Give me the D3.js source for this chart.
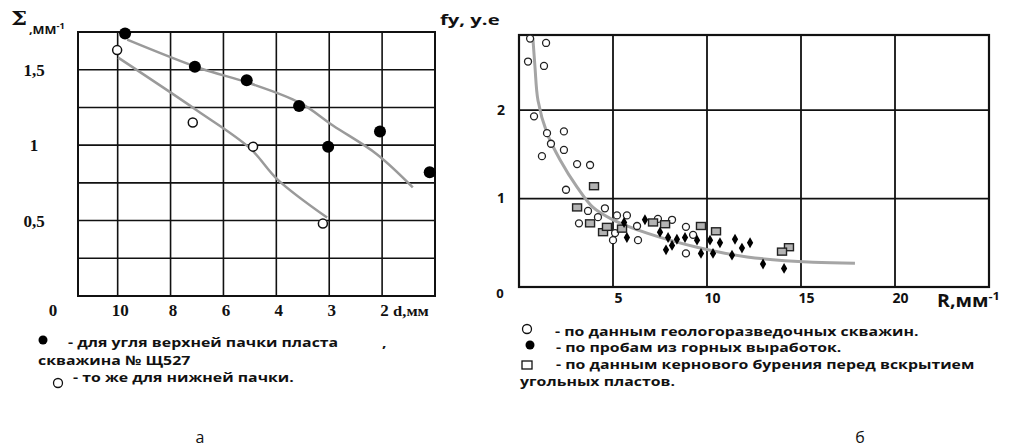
<!DOCTYPE html>
<html>
<head>
<meta charset="utf-8">
<script src="https://cdn.jsdelivr.net/npm/d3@7"></script>
<style>
  body { margin: 0; background: #fff; }
  svg text { font-family: "Open Sans", sans-serif; font-weight: bold; fill: #111; }
</style>
</head>
<body>
<div id="chart"></div>
<script>
// ---- data: left chart (a) ----
// x is the grid column of the d-scale (10, 8, 6, 4, 3, 2 mm at columns 1..6)
const leftXLabels = ["10", "8", "6", "4", "3", "2"];
const leftYTicks = [0.5, 1, 1.5];
const upperPoints = [[1.14, 1.74], [2.46, 1.52], [3.44, 1.43], [4.43, 1.26], [4.98, 0.99], [5.96, 1.09], [6.9, 0.82]];
const lowerPoints = [[0.99, 1.63], [2.42, 1.15], [3.56, 0.99], [4.88, 0.48]];
const upperCurve = [[1.18, 1.70], [2.56, 1.51], [3.5, 1.41], [4.45, 1.28], [5.07, 1.13], [5.9, 0.94], [6.58, 0.72]];
const lowerCurve = [[1.01, 1.58], [2.5, 1.23], [3.5, 0.98], [4.03, 0.77], [4.96, 0.52]];

// ---- data: right chart (б) ----
const rightXTicks = [5, 10, 15, 20];
const rightYTicks = [1, 2];
const wellPoints = [[0.59, 2.81], [1.44, 2.76], [0.48, 2.55], [1.33, 2.5], [0.8, 1.93], [1.49, 1.74], [2.39, 1.76],
  [1.7, 1.62], [2.39, 1.55], [1.22, 1.48], [3.09, 1.39], [3.78, 1.38], [2.5, 1.1], [3.67, 0.86], [4.57, 0.89],
  [4.2, 0.79], [3.19, 0.72], [5.21, 0.81], [5.74, 0.81], [5.11, 0.61], [5.0, 0.53], [6.28, 0.69], [6.33, 0.53],
  [7.39, 0.77], [8.14, 0.76], [8.88, 0.68], [9.26, 0.59], [8.88, 0.38]];
const minePoints = [[5.59, 0.73], [6.7, 0.76], [7.5, 0.62], [7.93, 0.56], [8.4, 0.54], [8.83, 0.56], [9.47, 0.53],
  [10.16, 0.53], [10.69, 0.5], [11.49, 0.54], [12.29, 0.5], [8.14, 0.47], [7.82, 0.42], [11.86, 0.44],
  [9.68, 0.38], [10.32, 0.38], [11.33, 0.36], [12.98, 0.26], [14.1, 0.21], [5.74, 0.56]];
const corePoints = [[3.99, 1.14], [3.09, 0.9], [3.78, 0.72], [4.47, 0.62], [4.68, 0.68], [5.48, 0.66], [7.13, 0.73],
  [7.77, 0.71], [9.68, 0.69], [10.48, 0.63], [14.36, 0.45], [13.99, 0.4]];
const fitCurve = [[0.74, 2.81], [0.85, 2.49], [1.01, 2.11], [1.49, 1.74], [2.18, 1.44], [3.09, 1.13], [3.94, 0.9],
  [5.0, 0.76], [6.81, 0.61], [9.47, 0.45], [12.13, 0.34], [15.64, 0.28], [17.87, 0.27]];

const width = 1034, height = 448;
const svg = d3.select('#chart').append('svg')
  .attr('width', width).attr('height', height);

// the scanned figure is stretched sideways, so text is widened a bit
function wideText(g, x, y, str, size, sx) {
  return g.append('text')
    .attr('transform', `translate(${x},${y}) scale(${sx},1)`)
    .style('font-size', size + 'px')
    .text(str);
}

// ================= left chart =================
const xL = d3.scaleLinear().domain([0.25, 7]).range([78, 435]);
const yL = d3.scaleLinear().domain([0, 1.75]).range([296, 32]);
const gL = svg.append('g');

// grid
gL.selectAll('.vl').data(d3.range(1, 7)).enter().append('line')
  .attr('x1', d => xL(d)).attr('x2', d => xL(d))
  .attr('y1', yL(0)).attr('y2', yL(1.75))
  .attr('stroke', '#111').attr('stroke-width', 1.6);
gL.selectAll('.hl').data(d3.range(0.25, 1.75, 0.25)).enter().append('line')
  .attr('x1', xL(0.25)).attr('x2', xL(7))
  .attr('y1', d => yL(d)).attr('y2', d => yL(d))
  .attr('stroke', '#111').attr('stroke-width', 1.6);
gL.append('rect')
  .attr('x', xL(0.25)).attr('y', yL(1.75))
  .attr('width', xL(7) - xL(0.25)).attr('height', yL(0) - yL(1.75))
  .attr('fill', 'none').attr('stroke', '#111').attr('stroke-width', 2);

// axes labels
const xAxisL = d3.axisBottom(xL).tickValues(d3.range(1, 7))
  .tickFormat((d, i) => leftXLabels[i]).tickSize(0).tickPadding(8);
gL.append('g').attr('transform', `translate(2,${yL(0)})`).call(xAxisL)
  .call(g => g.select('.domain').remove())
  .selectAll('text').style('font-family', '"Liberation Serif", serif').style('font-size', '17px')
  .style('font-weight', 'bold').attr('fill', '#111');
wideText(gL, xL(6) + 11, yL(0) + 20, 'd,мм', 15, 1.1).style('font-family', '"Liberation Serif", serif');
gL.append('text').attr('x', xL(0.25) - 25).attr('y', yL(0) + 20).attr('text-anchor', 'middle')
  .style('font-family', '"Liberation Serif", serif').style('font-size', '17px').text('0');

gL.selectAll('.yt').data(leftYTicks).enter().append('text')
  .attr('x', 34).attr('y', d => yL(d)).attr('dy', '0.35em').attr('text-anchor', 'middle')
  .style('font-family', '"Liberation Serif", serif').style('font-size', '17px')
  .text(d => String(d).replace('.', ','));

wideText(gL, 11, 25, 'Σ', 19, 1.2).style('font-family', '"DejaVu Serif", serif');
wideText(gL, 29, 34, ',ММ', 11, 1.15).attr('fill', '#1b2a55')
  .append('tspan').attr('dy', -5).style('font-size', '8px').text('-1');

// curves
const lineL = d3.line().x(d => xL(d[0])).y(d => yL(d[1])).curve(d3.curveCatmullRom);
[upperCurve, lowerCurve].forEach(c => {
  gL.append('path').attr('d', lineL(c))
    .attr('fill', 'none').attr('stroke', '#9a9a9a').attr('stroke-width', 2.5);
});

// points
gL.selectAll('.up').data(upperPoints).enter().append('circle')
  .attr('cx', d => xL(d[0])).attr('cy', d => yL(d[1])).attr('r', 6)
  .attr('fill', '#000');
gL.selectAll('.lp').data(lowerPoints).enter().append('circle')
  .attr('cx', d => xL(d[0])).attr('cy', d => yL(d[1])).attr('r', 4.5)
  .attr('fill', '#fff').attr('stroke', '#111').attr('stroke-width', 1.5);

// legend (a)
const legL = svg.append('g');
legL.append('circle').attr('cx', 43).attr('cy', 340).attr('r', 4.5).attr('fill', '#000');
wideText(legL, 68, 347, '- для угля верхней пачки пласта', 13, 1.22);
wideText(legL, 382, 347, ',', 13, 1.22);
wideText(legL, 38, 365, 'скважина № Щ527', 13, 1.22);
legL.append('circle').attr('cx', 58).attr('cy', 383).attr('r', 4.5)
  .attr('fill', '#fff').attr('stroke', '#111').attr('stroke-width', 1.3);
wideText(legL, 73, 382, '- то же для нижней пачки.', 13, 1.22);
svg.append('text').attr('x', 200).attr('y', 443).attr('text-anchor', 'middle')
  .style('font-weight', 'normal').style('font-size', '16px').text('а');

// ================= right chart =================
const xR = d3.scaleLinear().domain([0, 25]).range([519, 989]);
const yR = d3.scaleLinear().domain([0, 2.85]).range([287, 35]);
const gR = svg.append('g');

gR.selectAll('.vl').data(rightXTicks).enter().append('line')
  .attr('x1', d => xR(d)).attr('x2', d => xR(d))
  .attr('y1', yR(0)).attr('y2', yR(2.85))
  .attr('stroke', '#111').attr('stroke-width', 1.8);
gR.selectAll('.hl').data(rightYTicks).enter().append('line')
  .attr('x1', xR(0)).attr('x2', xR(25))
  .attr('y1', d => yR(d)).attr('y2', d => yR(d))
  .attr('stroke', '#111').attr('stroke-width', 1.8);
gR.append('rect')
  .attr('x', xR(0)).attr('y', yR(2.85))
  .attr('width', xR(25) - xR(0)).attr('height', yR(0) - yR(2.85))
  .attr('fill', 'none').attr('stroke', '#111').attr('stroke-width', 2.2);

const xAxisR = d3.axisBottom(xR).tickValues(rightXTicks).tickSize(0).tickPadding(6);
gR.append('g').attr('transform', `translate(5,${yR(0)})`).call(xAxisR)
  .call(g => g.select('.domain').remove())
  .selectAll('text').style('font-size', '14px').style('font-weight', 'bold')
  .style('font-family', '"Open Sans", sans-serif').attr('fill', '#111');
wideText(gR, 937, 307, 'R,мм', 17, 1.15)
  .append('tspan').attr('dy', -7).style('font-size', '11px').text('-1');
gR.append('text').attr('x', 500).attr('y', yR(0) + 6).attr('dy', '0.35em').attr('text-anchor', 'middle')
  .style('font-size', '13px').text('0');
gR.selectAll('.yt').data(rightYTicks).enter().append('text')
  .attr('x', 501).attr('y', d => yR(d)).attr('dy', '0.35em').attr('text-anchor', 'middle')
  .style('font-size', '14px').text(d => d);
wideText(svg, 440, 25, 'fу, у.е', 15, 1.35);

// fitted curve
const lineR = d3.line().x(d => xR(d[0])).y(d => yR(d[1])).curve(d3.curveCatmullRom);
gR.append('path').attr('d', lineR(fitCurve))
  .attr('fill', 'none').attr('stroke', '#a5a5a5').attr('stroke-width', 3);

// points
gR.selectAll('.wp').data(wellPoints).enter().append('circle')
  .attr('cx', d => xR(d[0])).attr('cy', d => yR(d[1])).attr('r', 3.5)
  .attr('fill', '#fff').attr('stroke', '#222').attr('stroke-width', 1.3);
gR.selectAll('.cp').data(corePoints).enter().append('rect')
  .attr('x', d => xR(d[0]) - 4.5).attr('y', d => yR(d[1]) - 3.5)
  .attr('width', 9).attr('height', 7)
  .attr('fill', '#b3b3b3').attr('stroke', '#222').attr('stroke-width', 1.4);
const diamond = d3.symbol().type(d3.symbolDiamond).size(34);
gR.selectAll('.mp').data(minePoints).enter().append('path')
  .attr('d', diamond)
  .attr('transform', d => `translate(${xR(d[0])},${yR(d[1])})`)
  .attr('fill', '#000');

// legend (б)
const legR = svg.append('g');
legR.append('circle').attr('cx', 527).attr('cy', 329).attr('r', 4.5)
  .attr('fill', '#fff').attr('stroke', '#111').attr('stroke-width', 1.3);
wideText(legR, 555, 336, '- по данным геологоразведочных скважин.', 13, 1.22);
legR.append('circle').attr('cx', 530).attr('cy', 345).attr('r', 4.5).attr('fill', '#000');
wideText(legR, 556, 352, '- по пробам из горных выработок.', 13, 1.22);
legR.append('rect').attr('x', 522).attr('y', 361).attr('width', 10).attr('height', 8)
  .attr('fill', '#fff').attr('stroke', '#111').attr('stroke-width', 1.3);
wideText(legR, 556, 369, '- по данным кернового бурения перед вскрытием', 13, 1.22);
wideText(legR, 520, 386, 'угольных пластов.', 13, 1.22);
svg.append('text').attr('x', 860).attr('y', 443).attr('text-anchor', 'middle')
  .style('font-weight', 'normal').style('font-size', '16px').text('б');
</script>
</body>
</html>
